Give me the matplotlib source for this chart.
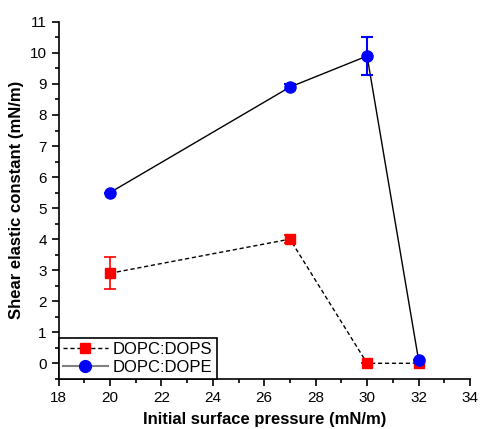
import numpy as np
import matplotlib
matplotlib.use("Agg")
import matplotlib.pyplot as plt
from matplotlib.ticker import MultipleLocator

plt.rcParams['font.family'] = ['Liberation Sans', 'DejaVu Sans']

# Data
pressure = [20, 27, 30, 32]
dops = [2.9, 4.0, 0.0, 0.0]
dops_err = [0.52, 0.13, 0.0, 0.0]
dope = [5.5, 8.9, 9.9, 0.12]
dope_err = [0.0, 0.1, 0.6, 0.0]

fig = plt.figure(figsize=(4.8, 4.29), dpi=100)
ax = fig.add_axes([0.122, 0.117, 0.857, 0.832])

ax.plot(pressure, dops, color='black', ls=(0, (3, 2)), lw=1, zorder=2)
ax.errorbar(pressure, dops, yerr=dops_err, fmt='s', color='red', ms=7,
            capsize=4, elinewidth=1.2, capthick=1.2, zorder=3)
ax.plot(pressure, dope, color='black', ls='-', lw=1, zorder=2)
ax.errorbar(pressure, dope, yerr=dope_err, fmt='o', color='blue', ms=8,
            capsize=4, elinewidth=1.5, capthick=1.5, zorder=3)

# legend proxies
h1, = ax.plot([], [], color='black', ls=(0, (3, 2)), lw=1, marker='s',
              mfc='red', mec='red', ms=7.5)
h2, = ax.plot([], [], color='gray', ls='-', lw=1.5, marker='o',
              mfc='blue', mec='blue', ms=8.5)
leg = ax.legend([h1, h2], ['DOPC:DOPS', 'DOPC:DOPE'], loc='lower left',
                bbox_to_anchor=(0, 0), borderaxespad=0, fontsize=12,
                fancybox=False, edgecolor='black', framealpha=1,
                handlelength=2.7, handletextpad=0.3, borderpad=0.25,
                labelspacing=0.15)
leg.get_frame().set_linewidth(1.2)

ax.set_xlim(18, 34)
ax.set_ylim(-0.5, 11)
ax.xaxis.set_major_locator(MultipleLocator(2))
ax.xaxis.set_minor_locator(MultipleLocator(1))
ax.yaxis.set_major_locator(MultipleLocator(1))
ax.yaxis.set_minor_locator(MultipleLocator(0.5))
ax.tick_params(which='major', direction='out', length=5, width=1.2, labelsize=11)
ax.tick_params(which='minor', direction='out', length=3, width=1.2)

for s in ['top', 'right']:
    ax.spines[s].set_visible(False)
for s in ['left', 'bottom']:
    ax.spines[s].set_linewidth(1.2)

ax.set_xlabel('Initial surface pressure (mN/m)', fontsize=12, fontweight='bold', labelpad=5)
ax.set_ylabel('Shear elastic constant (mN/m)', fontsize=12, fontweight='bold', labelpad=4)

fig.savefig('out.png', dpi=100)
